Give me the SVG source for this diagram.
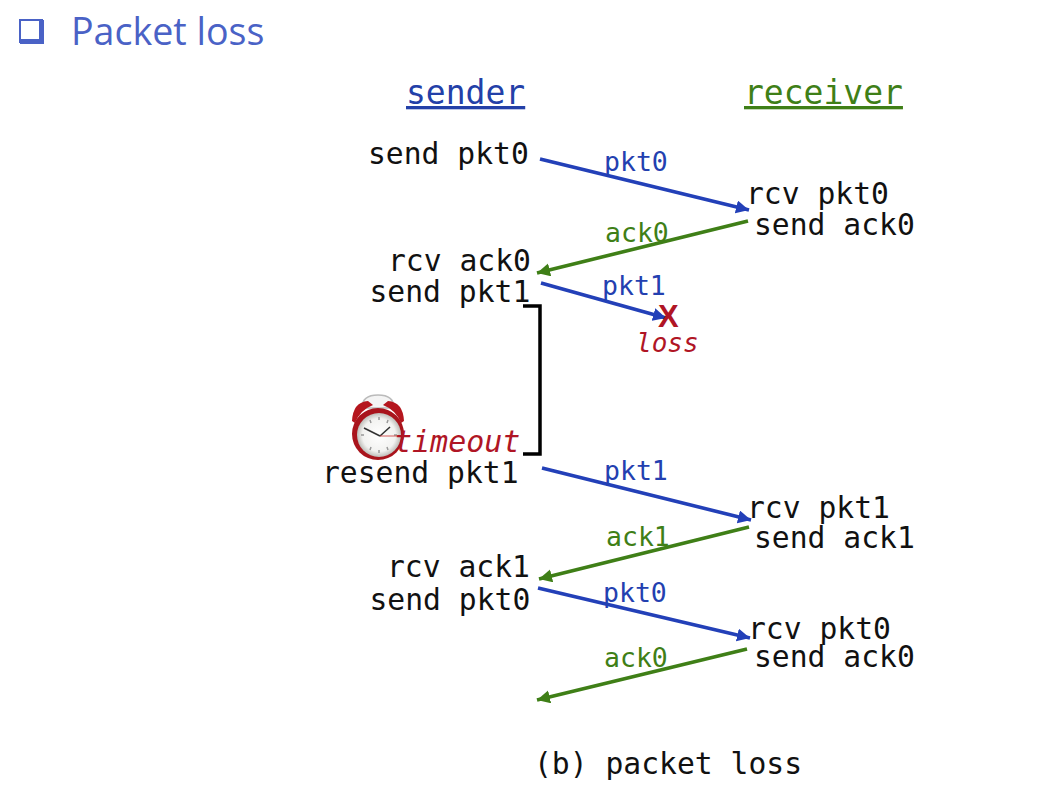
<svg xmlns="http://www.w3.org/2000/svg" width="1046" height="798" viewBox="0 0 1046 798">
<defs>
<marker id="ab" markerUnits="userSpaceOnUse" markerWidth="15" markerHeight="14" refX="13" refY="6.500" orient="auto"><path d="M0 0L13 6.500L0 13Z" fill="#2340b8"/></marker>
<marker id="ag" markerUnits="userSpaceOnUse" markerWidth="15" markerHeight="14" refX="13" refY="6.500" orient="auto"><path d="M0 0L13 6.500L0 13Z" fill="#3f7f17"/></marker>
<radialGradient id="face"><stop offset="0" stop-color="#fff"/><stop offset="0.75" stop-color="#f2f2f0"/><stop offset="1" stop-color="#bdbdb8"/></radialGradient>
</defs>
<style>
text{font-family:"DejaVu Sans Mono","Liberation Mono",monospace}
.t{font-size:29.700px;fill:#111}
.b{font-size:26.500px;fill:#2340b0}
.g{font-size:26.500px;fill:#3f7f17}
.r{fill:#b01525;font-style:italic}
.lb{stroke:#2340b8;stroke-width:3.600;fill:none;marker-end:url(#ab)}
.lg{stroke:#3f7f17;stroke-width:3.600;fill:none;marker-end:url(#ag)}
</style>
<rect width="1046" height="798" fill="#fff"/>
<g id="title">
<rect x="20" y="20" width="22" height="22" fill="#fff" stroke="#4a62c6" stroke-width="2"/>
<path d="M20 39H44V44H20ZM39 20H44V44H39Z" fill="#4a62c6"/>
<text x="71" y="45" font-size="37.600" fill="#4a62c6" style="font-family:'Open Sans','Noto Sans',sans-serif">Packet loss</text>
</g>
<g id="connectors">
<path class="lb" d="M540 159L749 210"/>
<path class="lg" d="M748 221L537 273"/>
<path class="lb" d="M541 283L666 318"/>
<path class="lb" d="M542 468L751 520"/>
<path class="lg" d="M749 527L539 579"/>
<path class="lb" d="M538 588L750 638"/>
<path class="lg" d="M747 649L537 700"/>
<path d="M523 306H540V454H523" fill="none" stroke="#000" stroke-width="3.500"/>
</g>
<g id="sender-header"><text x="406" y="104" font-size="33" fill="#2340a8" text-decoration="underline">sender</text></g>
<g id="receiver-header"><text x="744" y="104" font-size="33" fill="#3f7f17" text-decoration="underline">receiver</text></g>
<g id="sender-labels">
<text class="t" x="368" y="164">send pkt0</text>
<text class="t" x="388" y="271">rcv ack0</text>
<text class="t" x="369.500" y="302">send pkt1</text>
<text class="t" x="322" y="483">resend pkt1</text>
<text class="t" x="387" y="577">rcv ack1</text>
<text class="t" x="369.500" y="610">send pkt0</text>
</g>
<g id="receiver-labels">
<text class="t" x="746" y="204">rcv pkt0</text>
<text class="t" x="754" y="235">send ack0</text>
<text class="t" x="747" y="518">rcv pkt1</text>
<text class="t" x="754" y="548">send ack1</text>
<text class="t" x="748" y="639">rcv pkt0</text>
<text class="t" x="754" y="667">send ack0</text>
</g>
<g id="connector-labels">
<text class="b" x="604" y="171">pkt0</text>
<text class="g" x="605" y="242">ack0</text>
<text class="b" x="602" y="295">pkt1</text>
<text class="b" x="604" y="480">pkt1</text>
<text class="g" x="606" y="546">ack1</text>
<text class="b" x="603" y="602">pkt0</text>
<text class="g" x="604" y="667">ack0</text>
</g>
<g id="loss">
<text x="658" y="327" font-size="31" font-weight="bold" fill="#b01525" style="font-family:'Liberation Sans',sans-serif">X</text>
<text class="r" x="636" y="352" font-size="26">loss</text>
</g>
<g id="clock">
<path d="M362 408Q362 395 378 395Q394 395 394 408Z" fill="#f4f4f4" stroke="#bbb" stroke-width="1.500"/>
<path d="M352 421Q353 402 368 401L373 405Q360 410 355 423ZM404 421Q403 402 388 401L383 405Q396 410 401 423Z" fill="#b5161e"/>
<circle cx="378" cy="434" r="26" fill="#a9141c"/>
<circle cx="379" cy="435" r="22" fill="url(#face)"/>
<g stroke="#999" stroke-width="1.500"><path d="M379 417v3M379 450v3M361 435h3M394 435h3M370 420l1 3M388 420l-1 3M370 450l1-3M388 450l-1-3"/></g>
<path d="M380 436L364 428M380 436L390 427" stroke="#333" stroke-width="1.600"/>
<path d="M380 436H404" stroke="#c33" stroke-width="0.800"/>
</g>
<g id="timeout"><text class="r" x="394" y="452" font-size="30">timeout</text></g>
<g id="caption"><text class="t" x="534" y="774">(b) packet loss</text></g>
</svg>
